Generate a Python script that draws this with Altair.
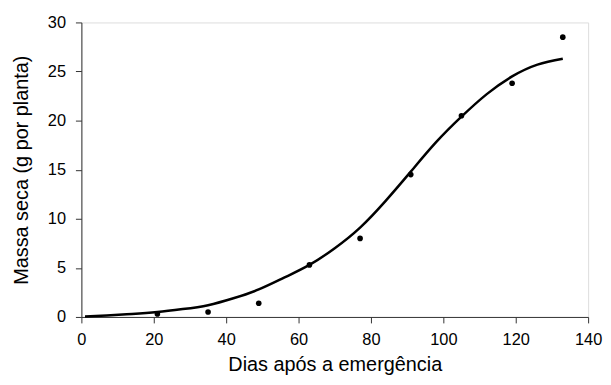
import altair as alt
import pandas as pd

# Observed points
obs_days = [21, 35, 49, 63, 77, 91, 105, 119, 133]
obs_mass = [0.3, 0.5, 1.4, 5.3, 8.0, 14.5, 20.5, 23.8, 28.5]

# Fitted curve
fit_days = [1, 7, 14, 21, 28, 35, 42, 49, 56, 63, 70, 77, 84, 91, 98, 105, 112, 119, 126, 133]
fit_mass = [0.05, 0.15, 0.3, 0.5, 0.8, 1.2, 1.9, 2.8, 4.0, 5.3, 7.0, 9.1, 11.8, 14.8, 17.8, 20.4, 22.7, 24.5, 25.7, 26.3]

pts = pd.DataFrame({"x": obs_days, "y": obs_mass})
fit = pd.DataFrame({"x": fit_days, "y": fit_mass})

FONT = "Liberation Sans"

xscale = alt.Scale(domain=[0, 140], nice=False, zero=False)
yscale = alt.Scale(domain=[0, 30], nice=False, zero=False)

xaxis = alt.Axis(
    title="Dias após a emergência", values=[0, 20, 40, 60, 80, 100, 120, 140],
    grid=False, tickSize=6, labelPadding=9, labelFlush=False,
    titleY=54, titleBaseline="alphabetic",
    labelFontSize=16.5, titleFontSize=20, labelFont=FONT, titleFont=FONT,
    labelColor="black", titleColor="black", domainColor="#333333", tickColor="#333333",
    titleFontWeight="normal",
)
yaxis = alt.Axis(
    title="Massa seca (g por planta)", values=[0, 5, 10, 15, 20, 25, 30],
    grid=False, tickSize=6, labelPadding=10, titlePadding=16, labelFlush=False,
    labelFontSize=16.5, titleFontSize=20, labelFont=FONT, titleFont=FONT,
    labelColor="black", titleColor="black", domainColor="#333333", tickColor="#333333",
    titleFontWeight="normal",
)

line = alt.Chart(fit).mark_line(color="black", strokeWidth=2.5, interpolate="natural").encode(
    x=alt.X("x:Q", scale=xscale, axis=xaxis),
    y=alt.Y("y:Q", scale=yscale, axis=yaxis),
)
points = alt.Chart(pts).mark_circle(color="black", size=32, opacity=1).encode(
    x=alt.X("x:Q", scale=xscale),
    y=alt.Y("y:Q", scale=yscale),
)

chart = (line + points).properties(
    width=511, height=297,
    autosize=alt.AutoSizeParams(type="none"),
    padding={"left": 74, "top": 13, "right": 15, "bottom": 59},
).configure_view(stroke=None).configure(background="white")

chart.save("out.html", embed_options={"renderer": "svg", "actions": False})
